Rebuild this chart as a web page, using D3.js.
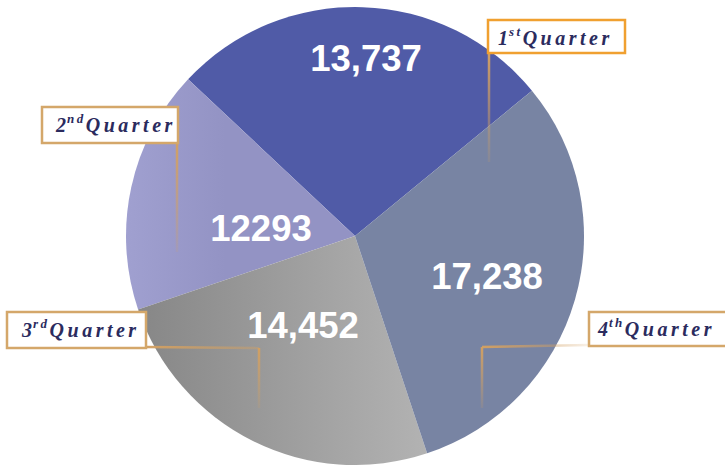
<!DOCTYPE html>
<html>
<head>
<meta charset="utf-8">
<script src="https://cdnjs.cloudflare.com/ajax/libs/d3/7.8.5/d3.min.js"></script>
<style>
  html, body { margin: 0; padding: 0; background: #fff; }
  svg { display: block; }
</style>
</head>
<body>
<div id="chart"></div>
<script>
// --- data ---
const quarters = ["1", "2", "3", "4"];
const suffixes = ["st", "nd", "rd", "th"];
const valueLabels = ["13,737", "12293", "14,452", "17,238"];
// slice sizes as drawn
const sliceValues = [15617, 9925, 14374, 17805];

const width = 725, height = 465;
const cx = 355, cy = 236, radius = 229;

const svg = d3.select("#chart")
  .append("svg")
  .attr("width", width)
  .attr("height", height);

const defs = svg.append("defs");

// gray gradient for 3rd quarter (coords relative to pie centre)
const g3 = defs.append("linearGradient")
  .attr("id", "grad3")
  .attr("gradientUnits", "userSpaceOnUse")
  .attr("x1", -215).attr("y1", 0)
  .attr("x2", 75).attr("y2", 0);
g3.append("stop").attr("offset", "0%").attr("stop-color", "#878787");
g3.append("stop").attr("offset", "100%").attr("stop-color", "#b3b3b3");

// lavender gradient for 2nd quarter
const g2 = defs.append("linearGradient")
  .attr("id", "grad2")
  .attr("gradientUnits", "userSpaceOnUse")
  .attr("x1", -230).attr("y1", 0)
  .attr("x2", -130).attr("y2", 0);
g2.append("stop").attr("offset", "0%").attr("stop-color", "#a0a0d0");
g2.append("stop").attr("offset", "100%").attr("stop-color", "#9393c4");

const colors = ["#505ba7", "url(#grad2)", "url(#grad3)", "#7884a3"];

const deg = Math.PI / 180;
const pie = d3.pie()
  .sort(null)
  .value(d => d)
  .startAngle(50.6 * deg)
  .endAngle(50.6 * deg - 2 * Math.PI);

const arc = d3.arc().innerRadius(0).outerRadius(radius);

const g = svg.append("g")
  .attr("transform", `translate(${cx},${cy})`);

g.selectAll("path.slice")
  .data(pie(sliceValues))
  .join("path")
  .attr("class", "slice")
  .attr("d", arc)
  .attr("fill", (d, i) => colors[i]);

// leader-line gradients (fading tan)
function fadeGrad(id, x1, y1, x2, y2) {
  const lg = defs.append("linearGradient")
    .attr("id", id)
    .attr("gradientUnits", "userSpaceOnUse")
    .attr("x1", x1).attr("y1", y1).attr("x2", x2).attr("y2", y2);
  lg.append("stop").attr("offset", "0%").attr("stop-color", "#d2a062").attr("stop-opacity", 1);
  lg.append("stop").attr("offset", "100%").attr("stop-color", "#d2a062").attr("stop-opacity", 0.15);
}

// leader lines: [x1, y1, x2, y2]
const leaders = [
  [489, 53, 489, 162],
  [177, 143, 177, 252],
  [146, 347, 259, 348],
  [259, 348, 259, 408],
  [589, 345, 482, 347],
  [482, 347, 482, 408]
];
leaders.forEach((l, i) => {
  let gx1 = l[0], gy1 = l[1], gx2 = l[2], gy2 = l[3];
  if (i === 2) { gx1 = 146; gx2 = 300; }
  if (i === 4) { gx1 = 482; gx2 = 589; gy1 = gy2 = 346; }
  fadeGrad("lead" + i, gx1, gy1, gx2, gy2);
  svg.append("path")
    .attr("d", `M${l[0]},${l[1]}L${l[2]},${l[3]}`)
    .attr("stroke", `url(#lead${i})`)
    .attr("stroke-width", 2.5)
    .attr("fill", "none");
});

// value labels
const valuePos = [[366, 71], [261, 241], [303, 338], [487, 289]];
svg.selectAll("text.value")
  .data(valueLabels)
  .join("text")
  .attr("class", "value")
  .attr("x", (d, i) => valuePos[i][0])
  .attr("y", (d, i) => valuePos[i][1])
  .attr("text-anchor", "middle")
  .attr("font-family", "'Liberation Sans', Arial, sans-serif")
  .attr("font-weight", "bold")
  .attr("font-size", "36.5px")
  .attr("fill", "#fff")
  .text(d => d);

// quarter label boxes: [x, y, w, h, textX, baseline]
const boxes = [
  [488, 20, 137, 33, 498, 45],
  [42, 107, 136, 36, 56, 132],
  [7, 312, 139, 36, 22, 337],
  [589, 312, 140, 34, 598, 336]
];
const boxStroke = ["#f0a030", "#d4a76a", "#d4a76a", "#d4a76a"];

boxes.forEach((b, i) => {
  svg.append("rect")
    .attr("x", b[0]).attr("y", b[1])
    .attr("width", b[2]).attr("height", b[3])
    .attr("fill", "#fff")
    .attr("stroke", boxStroke[i])
    .attr("stroke-width", 2.5);

  const t = svg.append("text")
    .attr("x", b[4]).attr("y", b[5])
    .attr("font-family", "'Liberation Serif', 'Times New Roman', serif")
    .attr("font-style", "italic")
    .attr("font-weight", "bold")
    .attr("font-size", "20px")
    .attr("fill", "#2b2b5e");
  t.append("tspan").text(quarters[i]).attr("letter-spacing", "1px");
  t.append("tspan")
    .attr("font-size", "13px")
    .attr("dy", -9)
    .attr("letter-spacing", "2.5px")
    .text(suffixes[i]);
  t.append("tspan")
    .attr("dy", 9)
    .attr("letter-spacing", "3.5px")
    .text("Quarter");
});
</script>
</body>
</html>
